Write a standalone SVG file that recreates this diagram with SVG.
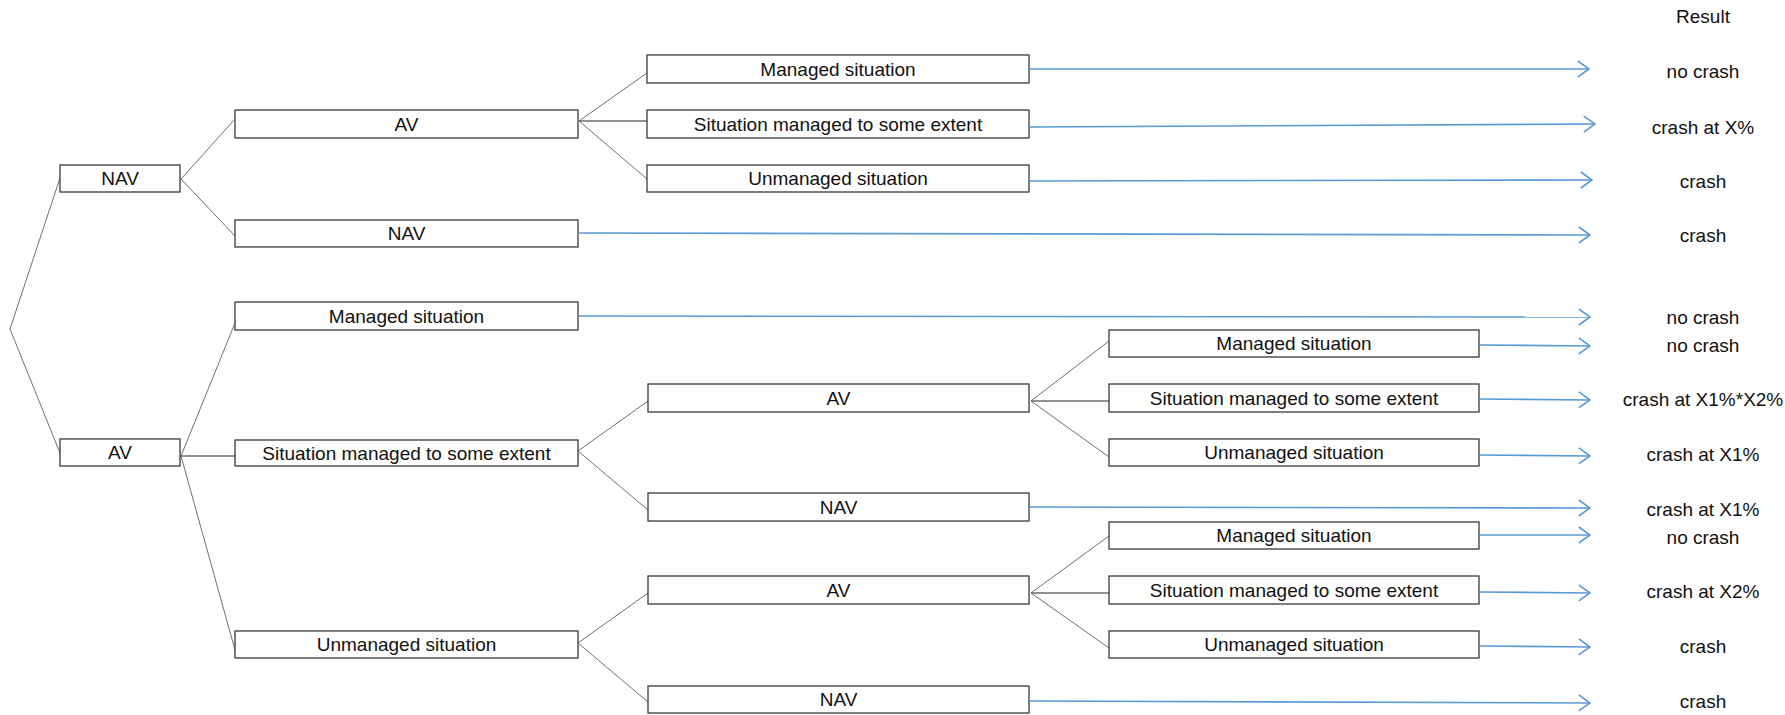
<svg xmlns="http://www.w3.org/2000/svg" width="1785" height="715" viewBox="0 0 1785 715">
<style>
.box{fill:#fff;stroke:#3a3a3a;stroke-width:1.3}
.t{font-family:"Liberation Sans",Arial,sans-serif;font-size:19px;fill:#111;text-anchor:middle;dominant-baseline:central}
.c{stroke:#6f6f6f;stroke-width:1;fill:none}
.h{stroke:#222;stroke-width:1;fill:none}
.a{stroke:#5B9BD5;stroke-width:1.6;fill:none;marker-end:url(#arr)}
</style>
<defs>
<marker id="arr" viewBox="0 0 13 18" refX="12" refY="9" markerWidth="13" markerHeight="18" markerUnits="userSpaceOnUse" orient="auto">
<path d="M0.8,1 L12,9 L0.8,17" fill="none" stroke="#5B9BD5" stroke-width="1.6"/>
</marker>
</defs>
<rect width="1785" height="715" fill="#fff"/>
<g id="connectors">
<line class="c" x1="10" y1="329" x2="60" y2="178"/>
<line class="c" x1="10" y1="329" x2="60" y2="453"/>
<line class="c" x1="181" y1="179" x2="235" y2="119"/>
<line class="c" x1="181" y1="179" x2="235" y2="236"/>
<line class="c" x1="181" y1="456" x2="235" y2="323"/>
<line class="h" x1="181" y1="456" x2="235" y2="456"/>
<line class="c" x1="181" y1="456" x2="235" y2="650"/>
<line class="c" x1="579" y1="121" x2="647" y2="73"/>
<line class="h" x1="579" y1="121" x2="647" y2="121"/>
<line class="c" x1="579" y1="121" x2="647" y2="179"/>
<line class="c" x1="578" y1="451" x2="648" y2="401"/>
<line class="c" x1="578" y1="451" x2="648" y2="510"/>
<line class="c" x1="578" y1="643" x2="648" y2="593"/>
<line class="c" x1="578" y1="643" x2="648" y2="702"/>
<line class="c" x1="1031" y1="401" x2="1109" y2="341"/>
<line class="h" x1="1031" y1="401" x2="1109" y2="401"/>
<line class="c" x1="1031" y1="401" x2="1109" y2="457"/>
<line class="c" x1="1031" y1="593" x2="1109" y2="536"/>
<line class="h" x1="1031" y1="593" x2="1109" y2="593"/>
<line class="c" x1="1031" y1="593" x2="1109" y2="648"/>
<line class="a" x1="1030" y1="69" x2="1589" y2="69"/>
<line class="a" x1="1030" y1="127" x2="1595" y2="124"/>
<line class="a" x1="1030" y1="181" x2="1592" y2="180"/>
<line class="a" x1="579" y1="233" x2="1590" y2="235"/>
<line class="a" x1="579" y1="316" x2="1590" y2="317"/>
<line class="a" x1="1480" y1="345" x2="1590" y2="346"/>
<line class="a" x1="1480" y1="399" x2="1590" y2="400"/>
<line class="a" x1="1480" y1="455" x2="1590" y2="456"/>
<line class="a" x1="1030" y1="507" x2="1590" y2="508"/>
<line class="a" x1="1480" y1="535" x2="1590" y2="535"/>
<line class="a" x1="1480" y1="592" x2="1590" y2="593"/>
<line class="a" x1="1480" y1="646" x2="1590" y2="647"/>
<line class="a" x1="1030" y1="701" x2="1590" y2="703"/>
</g>
<g id="nav_root"><rect class="box" x="60" y="165" width="120" height="27"/><text class="t" x="120" y="178.5">NAV</text></g>
<g id="av_root"><rect class="box" x="60" y="439" width="120" height="27"/><text class="t" x="120" y="452.5">AV</text></g>
<g id="nav_av"><rect class="box" x="235" y="110" width="343" height="28"/><text class="t" x="406.5" y="124">AV</text></g>
<g id="nav_nav"><rect class="box" x="235" y="220" width="343" height="27"/><text class="t" x="406.5" y="233.5">NAV</text></g>
<g id="av_ms"><rect class="box" x="235" y="302" width="343" height="28"/><text class="t" x="406.5" y="316">Managed situation</text></g>
<g id="av_smt"><rect class="box" x="235" y="440" width="343" height="26"/><text class="t" x="406.5" y="453">Situation managed to some extent</text></g>
<g id="av_um"><rect class="box" x="235" y="631" width="343" height="27"/><text class="t" x="406.5" y="644.5">Unmanaged situation</text></g>
<g id="nav_av_ms"><rect class="box" x="647" y="55" width="382" height="28"/><text class="t" x="838" y="69">Managed situation</text></g>
<g id="nav_av_smt"><rect class="box" x="647" y="110" width="382" height="28"/><text class="t" x="838" y="124">Situation managed to some extent</text></g>
<g id="nav_av_um"><rect class="box" x="647" y="165" width="382" height="27"/><text class="t" x="838" y="178.5">Unmanaged situation</text></g>
<g id="smt_av"><rect class="box" x="648" y="384" width="381" height="28"/><text class="t" x="838.5" y="398">AV</text></g>
<g id="smt_nav"><rect class="box" x="648" y="493" width="381" height="28"/><text class="t" x="838.5" y="507">NAV</text></g>
<g id="um_av"><rect class="box" x="648" y="576" width="381" height="28"/><text class="t" x="838.5" y="590">AV</text></g>
<g id="um_nav"><rect class="box" x="648" y="686" width="381" height="27"/><text class="t" x="838.5" y="699.5">NAV</text></g>
<g id="smt_av_ms"><rect class="box" x="1109" y="330" width="370" height="27"/><text class="t" x="1294" y="343.5">Managed situation</text></g>
<g id="smt_av_smt"><rect class="box" x="1109" y="384" width="370" height="28"/><text class="t" x="1294" y="398">Situation managed to some extent</text></g>
<g id="smt_av_um"><rect class="box" x="1109" y="439" width="370" height="27"/><text class="t" x="1294" y="452.5">Unmanaged situation</text></g>
<g id="um_av_ms"><rect class="box" x="1109" y="522" width="370" height="27"/><text class="t" x="1294" y="535.5">Managed situation</text></g>
<g id="um_av_smt"><rect class="box" x="1109" y="576" width="370" height="28"/><text class="t" x="1294" y="590">Situation managed to some extent</text></g>
<g id="um_av_um"><rect class="box" x="1109" y="631" width="370" height="27"/><text class="t" x="1294" y="644.5">Unmanaged situation</text></g>
<g id="results">
<text class="t" x="1703" y="16">Result</text>
<text class="t" x="1703" y="71">no crash</text>
<text class="t" x="1703" y="127">crash at X%</text>
<text class="t" x="1703" y="181">crash</text>
<text class="t" x="1703" y="235">crash</text>
<text class="t" x="1703" y="317">no crash</text>
<text class="t" x="1703" y="345">no crash</text>
<text class="t" x="1703" y="399">crash at X1%*X2%</text>
<text class="t" x="1703" y="454">crash at X1%</text>
<text class="t" x="1703" y="509">crash at X1%</text>
<text class="t" x="1703" y="537">no crash</text>
<text class="t" x="1703" y="591">crash at X2%</text>
<text class="t" x="1703" y="646">crash</text>
<text class="t" x="1703" y="701">crash</text>
</g>
</svg>
